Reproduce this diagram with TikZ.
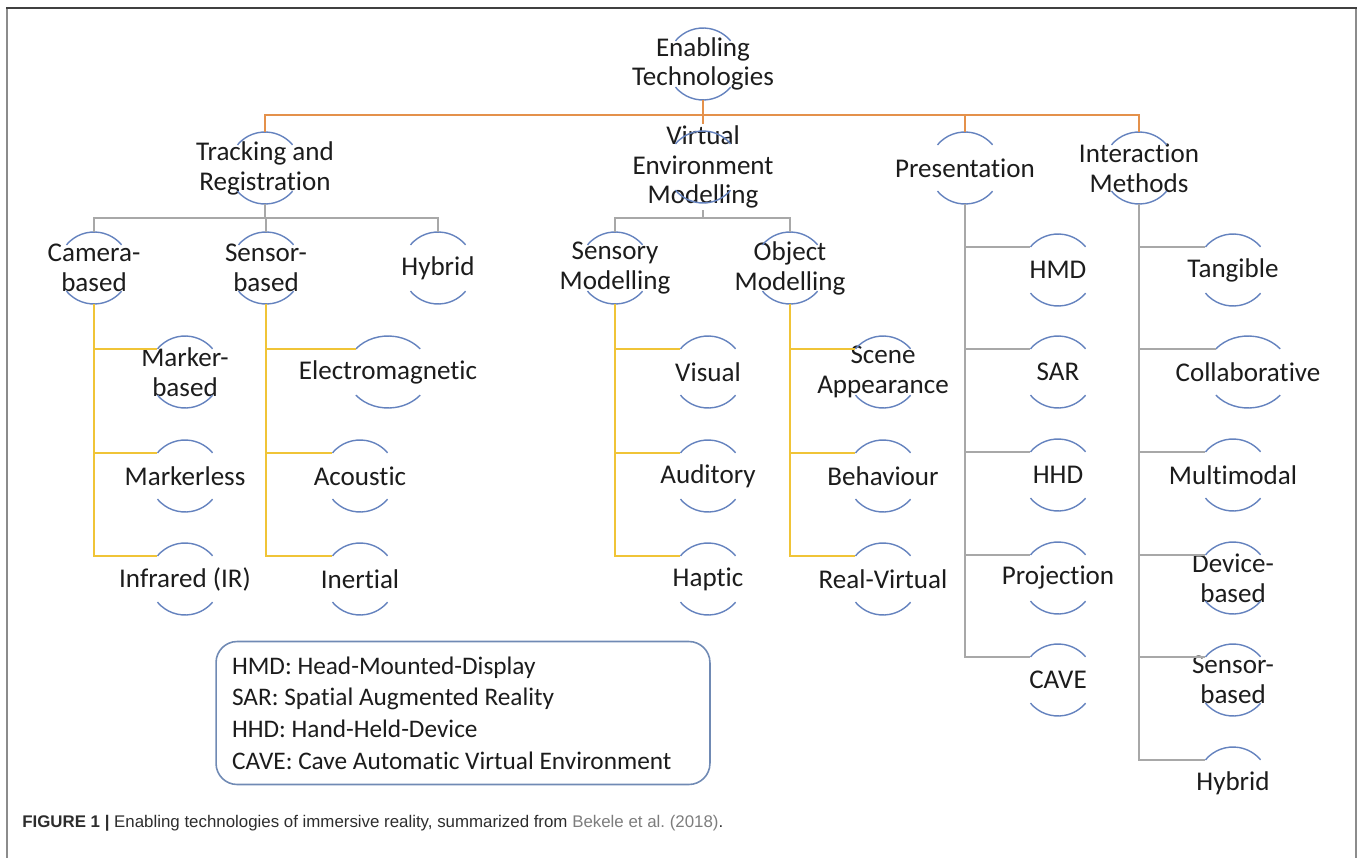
\documentclass[tikz,border=0pt]{standalone}
\usepackage{fontspec}
\setmainfont{Carlito}[Ligatures=NoCommon]
\newfontfamily\capfont{Liberation Sans}

\definecolor{ink}{RGB}{28,28,28}
\definecolor{arcblue}{RGB}{100,130,190}
\definecolor{rootline}{RGB}{228,145,75}
\definecolor{midline}{RGB}{168,168,168}
\definecolor{leafline}{RGB}{240,196,55}
\definecolor{boxline}{RGB}{112,138,180}
\definecolor{citegray}{RGB}{125,125,125}
\definecolor{capink}{RGB}{45,45,45}

\newcommand\bubfont{\fontsize{15.4}{17}\selectfont}
\def\ry{0.72cm}
\def\bubarcs(#1)(#2){%
  \draw[arcblue, line width=0.8pt] ([shift={(140:#2 and \ry)}]#1.center) arc[start angle=140, end angle=40, x radius=#2, y radius=\ry];
  \draw[arcblue, line width=0.8pt] ([shift={(220:#2 and \ry)}]#1.center) arc[start angle=220, end angle=320, x radius=#2, y radius=\ry];
  \coordinate (#1-in) at ([shift={(140:#2 and \ry)}]#1.center);}

\tikzset{
  bub/.style={align=center, minimum height=1.44cm, inner sep=1pt, outer sep=0pt, font=\bubfont, text=ink},
  orng/.style={rootline, line width=1.1pt},
  gry/.style={midline, line width=1.1pt},
  yel/.style={leafline, line width=1.1pt}
}

\begin{document}
\frenchspacing
\begin{tikzpicture}[x=0.02cm, y=-0.02cm]
			%%%%% START %%%%%
			\useasboundingbox (0,0) rectangle (1358,858);
			
			% frame
			\draw[gray!90, line width=1.2pt] (7,858) -- (7,8);
			\draw[gray!90, line width=1.2pt] (1356,8) -- (1356,858);
			\draw[black!75, line width=1.2pt] (6,8) -- (1357,8);
			
			% root and first level
			\node[bub] (root) at (703,64) {Enabling\\Technologies};
			\node[bub] (trk) at (265,168) {Tracking and\\Registration};
			\node[bub] (vem) at (703,167) {Virtual\\Environment\\Modelling};
			\node[bub] (pres) at (965,168) {Presentation};
			\node[bub] (intr) at (1139,168) {Interaction\\Methods};
			
			% second level
			\node[bub] (cam) at (94,268) {Camera-\\based};
			\node[bub] (sen) at (266,268) {Sensor-\\based};
			\node[bub] (hyb) at (438,268) {Hybrid};
			\node[bub] (smod) at (615,268) {Sensory\\Modelling};
			\node[bub] (omod) at (790,268) {Object\\Modelling};
			
			% leaves
			\node[bub] (mkb) at (185,372) {Marker-\\based};
			\node[bub] (mkl) at (185,476) {Markerless};
			\node[bub] (ir) at (185,579) {Infrared (IR)};
			\node[bub] (em) at (388,372) {Electromagnetic};
			\node[bub] (aco) at (360,476) {Acoustic};
			\node[bub] (ine) at (360,579) {Inertial};
			\node[bub] (vis) at (708,372) {Visual};
			\node[bub] (aud) at (708,476) {Auditory};
			\node[bub] (hap) at (708,579) {Haptic};
			\node[bub] (scn) at (883,372) {Scene\\Appearance};
			\node[bub] (beh) at (883,476) {Behaviour};
			\node[bub] (rv) at (883,579) {Real-Virtual};
			\node[bub] (hmd) at (1058,270) {HMD};
			\node[bub] (sar) at (1058,372) {SAR};
			\node[bub] (hhd) at (1058,475) {HHD};
			\node[bub] (proj) at (1058,578) {Projection};
			\node[bub] (cave) at (1058,680) {CAVE};
			\node[bub] (tan) at (1233,270) {Tangible};
			\node[bub] (col) at (1248,372) {Collaborative};
			\node[bub] (mul) at (1233,475) {Multimodal};
			\node[bub] (dev) at (1233,578) {Device-\\based};
			\node[bub] (sbs) at (1233,680) {Sensor-\\based};
			\node[bub] (hyb2) at (1233,783) {Hybrid};
			
			% arcs round every label
			\bubarcs(root)(0.72cm)
			\bubarcs(trk)(0.72cm)
			\bubarcs(vem)(0.72cm)
			\bubarcs(pres)(0.72cm)
			\bubarcs(intr)(0.72cm)
			\bubarcs(cam)(0.72cm)
			\bubarcs(sen)(0.72cm)
			\bubarcs(hyb)(0.72cm)
			\bubarcs(smod)(0.72cm)
			\bubarcs(omod)(0.72cm)
			\bubarcs(mkb)(0.72cm)
			\bubarcs(mkl)(0.72cm)
			\bubarcs(ir)(0.72cm)
			\bubarcs(em)(0.84cm)
			\bubarcs(aco)(0.72cm)
			\bubarcs(ine)(0.72cm)
			\bubarcs(vis)(0.72cm)
			\bubarcs(aud)(0.72cm)
			\bubarcs(hap)(0.72cm)
			\bubarcs(scn)(0.72cm)
			\bubarcs(beh)(0.72cm)
			\bubarcs(rv)(0.72cm)
			\bubarcs(hmd)(0.72cm)
			\bubarcs(sar)(0.72cm)
			\bubarcs(hhd)(0.72cm)
			\bubarcs(proj)(0.72cm)
			\bubarcs(cave)(0.72cm)
			\bubarcs(tan)(0.72cm)
			\bubarcs(col)(0.84cm)
			\bubarcs(mul)(0.72cm)
			\bubarcs(dev)(0.72cm)
			\bubarcs(sbs)(0.72cm)
			\draw[arcblue, line width=0.8pt] ([shift={(140:0.72cm and \ry)}]hyb2.center) arc[start angle=140, end angle=40, x radius=0.72cm, y radius=\ry];
			\coordinate (hyb2-in) at ([shift={(140:0.72cm and \ry)}]hyb2.center);
			
			% root connectors
			\draw[orng] (root.south) -- ++(0,15) -| (trk.north);
			\draw[orng] (root.south) -- (vem.north);
			\draw[orng] (root.south) -- ++(0,15) -| (pres.north);
			\draw[orng] (root.south) -- ++(0,15) -| (intr.north);
			
			% second level connectors
			\draw[gry] (trk.south) -- ++(0,14) -| (cam.north);
			\draw[gry] (trk.south) -- ++(0,14) -| (sen.north);
			\draw[gry] (trk.south) -- ++(0,14) -| (hyb.north);
			\draw[gry] (vem.south) -- ++(0,8) -| (smod.north);
			\draw[gry] (vem.south) -- ++(0,8) -| (omod.north);
			
			% leaf connectors
			\foreach \a/\b in {cam/mkb, cam/mkl, cam/ir, sen/em, sen/aco, sen/ine,
			                   smod/vis, smod/aud, smod/hap, omod/scn, omod/beh, omod/rv}
			  \draw[yel] (\a.south) |- (\b-in);
			\foreach \a/\b in {pres/hmd, pres/sar, pres/hhd, pres/proj, pres/cave,
			                   intr/tan, intr/col, intr/mul, intr/dev, intr/sbs, intr/hyb2}
			  \draw[gry] (\a.south) |- (\b-in);
			
			% legend
			\node[draw=boxline, line width=0.9pt, rounded corners=12pt, minimum width=9.88cm, minimum height=2.86cm,
			      inner xsep=0.32cm, inner ysep=0.3cm, text width=9.24cm, align=flush left, font=\fontsize{14.4}{18}\selectfont, text=ink]
			      (legend) at (463,713)
			      {HMD: Head-Mounted-Display\\SAR: Spatial Augmented Reality\\HHD: Hand-Held-Device\\CAVE: Cave Automatic Virtual Environment};
			
			% caption
			\node[anchor=base west, inner sep=0pt, font=\capfont\fontsize{9.6}{11}\selectfont, text=capink] (cap) at (22,827)
			      {\textbf{FIGURE 1 |} Enabling technologies of immersive reality, summarized from \textcolor{citegray}{Bekele et al. (2018)}.};
			%%%%% END %%%%%
\end{tikzpicture}
\end{document}
